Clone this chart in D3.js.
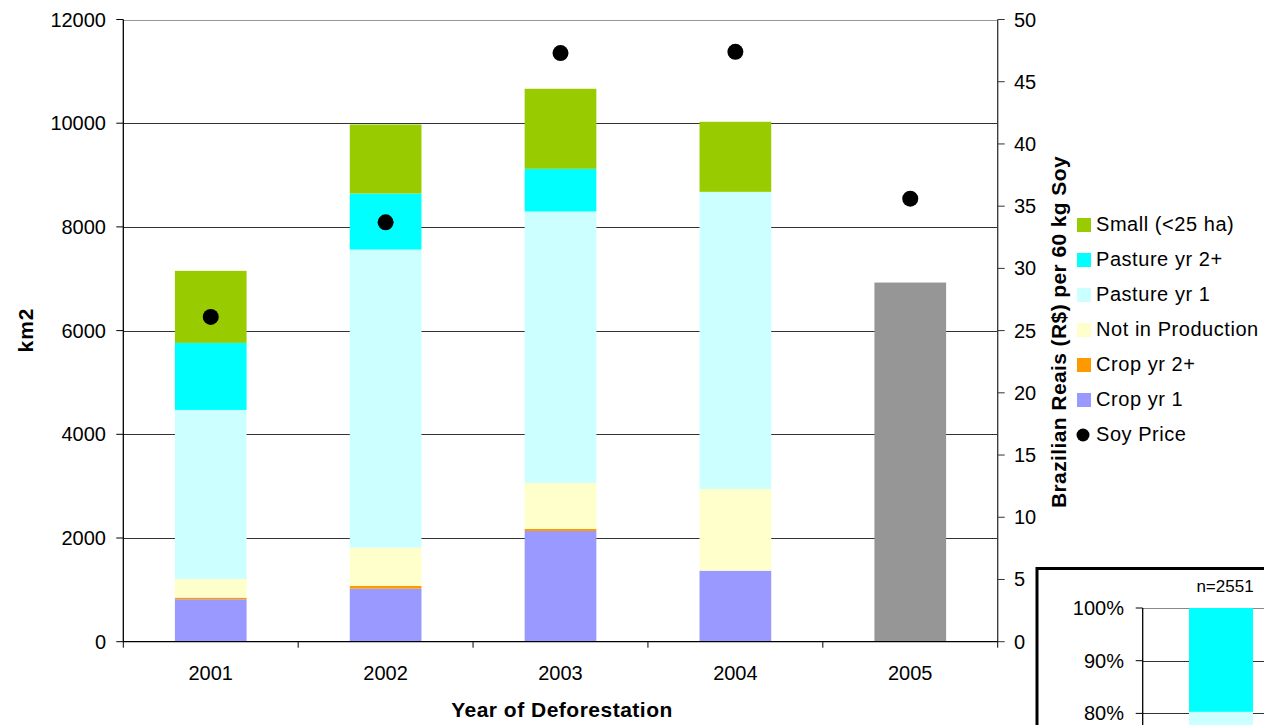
<!DOCTYPE html>
<html>
<head>
<meta charset="utf-8">
<script src="https://cdn.jsdelivr.net/npm/d3@7"></script>
<style>
  html, body { margin: 0; padding: 0; background: #fff; }
  svg { display: block; font-family: "Liberation Sans", Arial, sans-serif; }
</style>
</head>
<body>
<svg id="chart" width="1264" height="725"></svg>
<script>
// Deforested area by year of deforestation (km2), stacked by subsequent land use
const years = ["2001", "2002", "2003", "2004", "2005"];
const cropYr1      = [818, 1023, 2136, 1370, 0];
const cropYr2      = [31, 52, 38, 0, 0];
const notInProd    = [361, 739, 888, 1576, 0];
const pastureYr1   = [3260, 5749, 5235, 5730, 0];
const pastureYr2   = [1293, 1081, 823, 0, 0];
const smallClear   = [1389, 1331, 1544, 1351, 0];
const unclassified = [0, 0, 0, 0, 6927];
// Soy price, Brazilian Reais per 60 kg
const soyPrice = [26.1, 33.7, 47.3, 47.4, 35.6];

const leftTicks = [0, 2000, 4000, 6000, 8000, 10000, 12000];
const rightTicks = [0, 5, 10, 15, 20, 25, 30, 35, 40, 45, 50];

// Inset: share of cleared pasture area (n=2551)
const insetLabel = "n=2551";
const insetShares = [80.3, 19.7]; // Pasture yr 1, Pasture yr 2+
const insetTicks = [80, 90, 100];

const seriesNames = ["Crop yr 1", "Crop yr 2+", "Not in Production", "Pasture yr 1", "Pasture yr 2+", "Small (<25 ha)", "Unclassified"];
const seriesValues = [cropYr1, cropYr2, notInProd, pastureYr1, pastureYr2, smallClear, unclassified];
const seriesColors = ["#9999FF", "#FF9900", "#FFFFCC", "#CCFFFF", "#00FFFF", "#99CC00", "#969696"];

const svg = d3.select("#chart");
const plot = { left: 123.3, right: 997.7, top: 19.5, bottom: 641.7 };

const x = d3.scaleBand().domain(years).range([plot.left, plot.right])
  .paddingInner(0.59).paddingOuter(0.295);
const y = d3.scaleLinear().domain([0, 12000]).range([plot.bottom, plot.top]);
const y2 = d3.scaleLinear().domain([0, 50]).range([plot.bottom, plot.top]);

// Gridlines
svg.append("g").selectAll("line").data(leftTicks.filter(d => d > 0)).join("line")
  .attr("x1", plot.left).attr("x2", plot.right)
  .attr("y1", d => Math.round(y(d)) + 0.5).attr("y2", d => Math.round(y(d)) + 0.5)
  .attr("stroke", d => d === 12000 ? "#999" : "#333").attr("stroke-width", 1);

// Stacked bars
const rows = years.map((yr, i) => {
  const r = { year: yr };
  seriesNames.forEach((s, k) => r[s] = seriesValues[k][i]);
  return r;
});
const stacked = d3.stack().keys(seriesNames)(rows);
svg.append("g").selectAll("g").data(stacked).join("g")
  .attr("fill", (d, i) => seriesColors[i])
  .selectAll("rect").data(d => d.filter(p => p[1] - p[0] > 0)).join("rect")
  .attr("x", d => x(d.data.year))
  .attr("width", x.bandwidth())
  .attr("y", d => y(d[1]))
  .attr("height", d => y(d[0]) - y(d[1]));

// Left axis
const gl = svg.append("g");
gl.append("line").attr("x1", plot.left).attr("x2", plot.left)
  .attr("y1", plot.top).attr("y2", plot.bottom).attr("stroke", "#000").attr("stroke-width", 1.3);
gl.selectAll("line.t").data(leftTicks).join("line").attr("class", "t")
  .attr("x1", plot.left - 7).attr("x2", plot.left)
  .attr("y1", d => y(d)).attr("y2", d => y(d)).attr("stroke", "#000");
gl.selectAll("text").data(leftTicks).join("text")
  .attr("x", 106).attr("y", d => y(d)).attr("dy", "0.35em")
  .attr("text-anchor", "end").attr("font-size", 20).attr("fill", "#000")
  .text(d => d);

// Right axis
const gr = svg.append("g");
gr.append("line").attr("x1", plot.right).attr("x2", plot.right)
  .attr("y1", plot.top).attr("y2", plot.bottom).attr("stroke", "#333").attr("stroke-width", 1.3);
gr.selectAll("line.t").data(rightTicks).join("line").attr("class", "t")
  .attr("x1", plot.right).attr("x2", plot.right + 7)
  .attr("y1", d => y2(d)).attr("y2", d => y2(d)).attr("stroke", "#333");
gr.selectAll("text").data(rightTicks).join("text")
  .attr("x", 1014).attr("y", d => y2(d)).attr("dy", "0.35em")
  .attr("text-anchor", "start").attr("font-size", 20).attr("fill", "#000")
  .text(d => d);

// Bottom axis
const gb = svg.append("g");
gb.append("line").attr("x1", plot.left).attr("x2", plot.right)
  .attr("y1", plot.bottom).attr("y2", plot.bottom).attr("stroke", "#000").attr("stroke-width", 1.3);
const boundaries = d3.range(years.length + 1).map(i => plot.left + i * (plot.right - plot.left) / years.length);
gb.selectAll("line.t").data(boundaries).join("line").attr("class", "t")
  .attr("x1", d => d).attr("x2", d => d)
  .attr("y1", plot.bottom).attr("y2", plot.bottom + 6).attr("stroke", "#000");
gb.selectAll("text").data(years).join("text")
  .attr("x", d => x(d) + x.bandwidth() / 2).attr("y", 680)
  .attr("text-anchor", "middle").attr("font-size", 20).attr("fill", "#000")
  .text(d => d);

// Soy price points
svg.append("g").selectAll("circle").data(years).join("circle")
  .attr("cx", d => x(d) + x.bandwidth() / 2)
  .attr("cy", (d, i) => y2(soyPrice[i]))
  .attr("r", 8).attr("fill", "#000");

// Axis titles
svg.append("text").attr("x", 562).attr("y", 717).attr("text-anchor", "middle")
  .attr("font-size", 21).attr("font-weight", "bold").attr("letter-spacing", 0.5)
  .text("Year of Deforestation");
svg.append("text").attr("transform", "translate(33,330) rotate(-90)").attr("text-anchor", "middle")
  .attr("font-size", 21).attr("font-weight", "bold").attr("letter-spacing", 1).text("km2");
svg.append("text").attr("transform", "translate(1066,332) rotate(-90)").attr("text-anchor", "middle")
  .attr("font-size", 21).attr("font-weight", "bold").attr("letter-spacing", 0.4)
  .text("Brazilian Reais (R$) per 60 kg Soy");

// Legend
const legendItems = [
  { name: "Small (<25 ha)", color: "#99CC00" },
  { name: "Pasture yr 2+", color: "#00FFFF" },
  { name: "Pasture yr 1", color: "#CCFFFF" },
  { name: "Not in Production", color: "#FFFFCC" },
  { name: "Crop yr 2+", color: "#FF9900" },
  { name: "Crop yr 1", color: "#9999FF" },
  { name: "Soy Price", color: "#000", dot: true }
];
const lg = svg.append("g").selectAll("g").data(legendItems).join("g")
  .attr("transform", (d, i) => `translate(0,${223.5 + i * 35})`);
lg.filter(d => !d.dot).append("rect")
  .attr("x", 1077).attr("y", -5.5).attr("width", 14).attr("height", 14).attr("fill", d => d.color);
lg.filter(d => d.dot).append("circle")
  .attr("cx", 1083).attr("cy", 1.5).attr("r", 6.5).attr("fill", "#000");
lg.append("text").attr("x", 1096).attr("y", 0).attr("dy", "0.35em")
  .attr("font-size", 20).attr("letter-spacing", 0.55).attr("fill", "#000").text(d => d.name);

// Inset chart
const inset = svg.append("g");
inset.append("rect").attr("x", 1037).attr("y", 568.5).attr("width", 300).attr("height", 300)
  .attr("fill", "#fff").attr("stroke", "#000").attr("stroke-width", 3);
const yi = d3.scaleLinear().domain([0, 100]).range([608 + 527, 608]);
const ix = { left: 1142.7, right: 1340 };
inset.selectAll("line.g").data(insetTicks).join("line").attr("class", "g")
  .attr("x1", ix.left).attr("x2", ix.right)
  .attr("y1", d => Math.round(yi(d)) + 0.5).attr("y2", d => Math.round(yi(d)) + 0.5)
  .attr("stroke", d => d === 100 ? "#888" : "#333");
const insetStack = d3.cumsum(insetShares);
inset.selectAll("rect.b").data(insetShares).join("rect").attr("class", "b")
  .attr("x", 1189).attr("width", 64)
  .attr("y", (d, i) => yi(insetStack[i]))
  .attr("height", (d, i) => yi(insetStack[i] - d) - yi(insetStack[i]))
  .attr("fill", (d, i) => i === 0 ? "#CCFFFF" : "#00FFFF");
inset.append("line").attr("x1", ix.left).attr("x2", ix.left)
  .attr("y1", yi(100)).attr("y2", yi(0)).attr("stroke", "#000").attr("stroke-width", 1.3);
inset.selectAll("line.t").data(insetTicks).join("line").attr("class", "t")
  .attr("x1", ix.left - 7).attr("x2", ix.left)
  .attr("y1", d => yi(d)).attr("y2", d => yi(d)).attr("stroke", "#000");
inset.selectAll("text.t").data(insetTicks).join("text").attr("class", "t")
  .attr("x", 1124).attr("y", d => yi(d)).attr("dy", "0.35em")
  .attr("text-anchor", "end").attr("font-size", 20).text(d => d + "%");
inset.append("text").attr("x", 1225).attr("y", 586.5).attr("dy", "0.35em")
  .attr("text-anchor", "middle").attr("font-size", 17).text(insetLabel);
</script>
</body>
</html>
